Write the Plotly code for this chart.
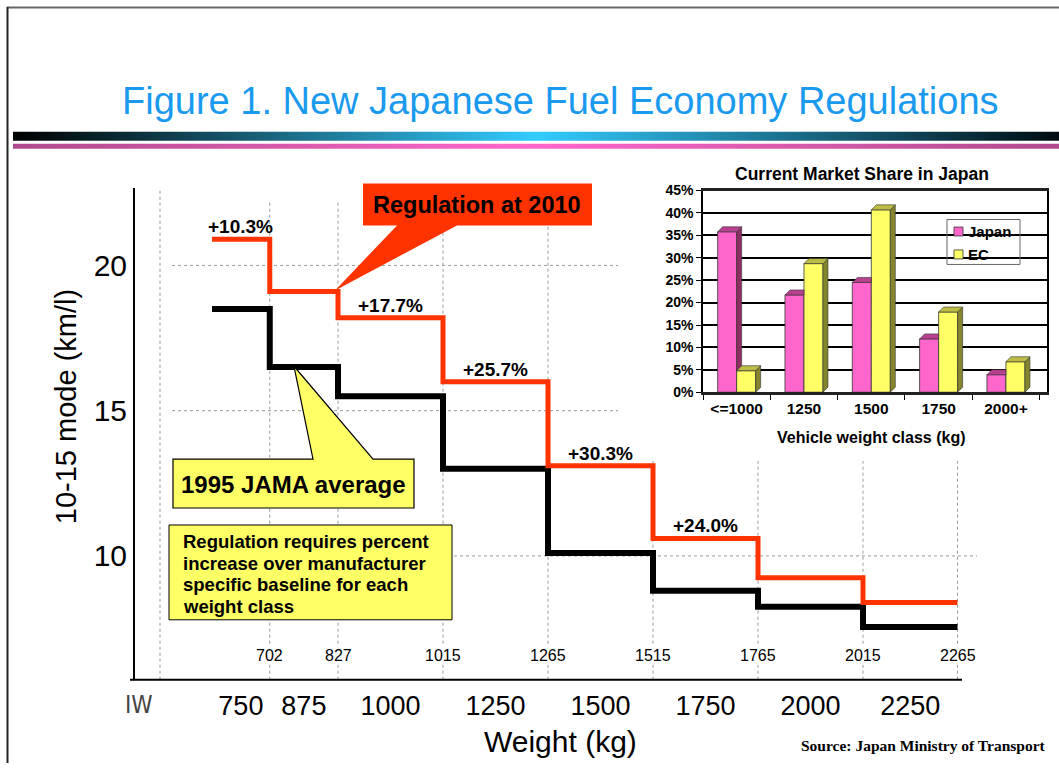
import plotly.graph_objects as go

W, H = 1059, 771

# ---------------- data ----------------
iw_labels = ["750", "875", "1000", "1250", "1500", "1750", "2000", "2250"]
boundary_labels = ["702", "827", "1015", "1265", "1515", "1765", "2015", "2265"]
# step positions on the (irregular) weight axis: start, then class boundaries
step_x = [-0.2, 0.35, 1, 2, 3, 4, 5, 6, 6.9]
jama_1995 = [18.5, 16.5, 15.5, 13.0, 10.1, 8.8, 8.25, 7.55]
reg_2010 = [20.9, 19.1, 18.2, 16.0, 13.1, 10.6, 9.25, 8.4]
increase_labels = ["+10.3%", "", "+17.7%", "+25.7%", "+30.3%", "+24.0%", "", ""]
y_ticks = [10, 15, 20]

share_classes = ["<=1000", "1250", "1500", "1750", "2000+"]
share_names = ["Japan", "EC"]
share_japan = [35.8, 21.7, 24.5, 11.9, 3.9]
share_ec = [4.8, 28.7, 40.7, 17.9, 6.8]
share_ticks = [0, 5, 10, 15, 20, 25, 30, 35, 40, 45]

note_lines = ["Regulation requires percent", "increase over manufacturer",
              "specific baseline for each", "weight class"]

FONT = "Liberation Sans"
NARROW = "Liberation Sans Narrow, DejaVu Sans Condensed, Liberation Sans"

# vertical compensation for the capture (observed: shown_y = OFF + SC * page_y)
OFF, SC = 7.1, 0.981


def TY(y):
    return (y - OFF) / SC


def PX(x):
    return x / W


def PY(y):
    return 1 - TY(y) / H


def P(x, y):
    return f"{PX(x):.5f},{PY(y):.5f}"


# main plot geometry (pixels as seen)
ML, MR, MT, MB = 135, 977, 187, 680
UNIT, ORIG = 105.0, 338.0
Y_PER, Y20 = 29.1, 265.0
x_range = [1 + (ML - ORIG) / UNIT, 1 + (MR - ORIG) / UNIT]
y_range = [20 - (MB - Y20) / Y_PER, 20 - (MT - Y20) / Y_PER]

# inset geometry
IL, IR, IT, IB = 703, 1047, 190, 392
ix_range = [-0.5, 4.61]
iy_range = [0, 45]
px_per_x = (IR - IL) / (ix_range[1] - ix_range[0])
px_per_y = (IB - IT) / (iy_range[1] - iy_range[0])
BW = 19 / px_per_x
DX = 5 / px_per_x
DY = 5 / px_per_y

fig = go.Figure()

# main step lines
fig.add_trace(go.Scatter(x=step_x, y=jama_1995 + [jama_1995[-1]], mode="lines",
                         line=dict(color="black", width=6, shape="hv"),
                         xaxis="x", yaxis="y", hoverinfo="skip", name="1995 JAMA average"))
fig.add_trace(go.Scatter(x=step_x, y=reg_2010 + [reg_2010[-1]], mode="lines",
                         line=dict(color="#FF3300", width=5, shape="hv"),
                         xaxis="x", yaxis="y", hoverinfo="skip", name="Regulation at 2010"))

# white mask behind the inset chart
fig.add_trace(go.Scatter(x=[0, 1, 1, 0, 0], y=[0, 0, 1, 1, 0], mode="lines", fill="toself",
                         fillcolor="white", line=dict(width=0, color="white"),
                         xaxis="x2", yaxis="y2", hoverinfo="skip"))

# inset bars (front faces)
cat_idx = list(range(len(share_classes)))
fig.add_trace(go.Bar(x=cat_idx, y=share_japan, width=BW, offset=-BW, name=share_names[0],
                     marker=dict(color="#FF66CC", line=dict(color="#333", width=0.8)),
                     xaxis="x3", yaxis="y3", hoverinfo="skip"))
fig.add_trace(go.Bar(x=cat_idx, y=share_ec, width=BW, offset=0, name=share_names[1],
                     marker=dict(color="#FFFF66", line=dict(color="#333", width=0.8)),
                     xaxis="x3", yaxis="y3", hoverinfo="skip"))

# decorative gradient rules under the title
fig.add_trace(go.Scatter(x=[13, 1059, 1059, 13, 13], y=[131, 131, 140, 140, 131], mode="lines",
                         fill="toself", line=dict(width=0),
                         fillgradient=dict(type="horizontal",
                                           colorscale=[[0, "#000000"], [0.5, "#33CCFF"], [1, "#000C12"]]),
                         xaxis="x4", yaxis="y4", hoverinfo="skip"))
fig.add_trace(go.Scatter(x=[13, 1059, 1059, 13, 13], y=[143, 143, 148, 148, 143], mode="lines",
                         fill="toself", line=dict(width=0),
                         fillgradient=dict(type="horizontal",
                                           colorscale=[[0, "#B04A8C"], [0.5, "#FF66CC"], [1, "#B04A8C"]]),
                         xaxis="x4", yaxis="y4", hoverinfo="skip"))

shapes = []
# slide frame
shapes.append(dict(type="line", xref="paper", yref="paper", x0=PX(7), x1=1, y0=PY(6.5), y1=PY(6.5),
                   line=dict(color="#666", width=2)))
shapes.append(dict(type="line", xref="paper", yref="paper", x0=PX(7.5), x1=PX(7.5), y0=PY(6), y1=0,
                   line=dict(color="#222", width=2)))
# main grid
gx0 = (172 - ML) / (MR - ML)
for v in y_ticks:
    shapes.append(dict(type="line", xref="x domain", yref="y", x0=gx0, x1=1, y0=v, y1=v,
                       line=dict(color="#999", width=1, dash="dot"), layer="below"))
gtop = (MB - 200) / (MB - MT)
for xv in step_x[1:]:
    shapes.append(dict(type="line", xref="x", yref="y domain", x0=xv, x1=xv, y0=0, y1=gtop,
                       line=dict(color="#999", width=1, dash="dot"), layer="below"))
shapes.append(dict(type="line", xref="x domain", yref="y domain", x0=(160 - ML) / (MR - ML),
                   x1=(160 - ML) / (MR - ML), y0=0, y1=1,
                   line=dict(color="#999", width=1, dash="dot"), layer="below"))
# bottom axis rule
shapes.append(dict(type="line", xref="paper", yref="paper", x0=PX(130), x1=PX(962), y0=PY(680), y1=PY(680),
                   line=dict(color="black", width=2)))

# callouts
red_path = ("M " + P(363, 183) + " L " + P(592, 183) + " L " + P(592, 225) + " L " + P(457, 225)
            + " L " + P(335, 290) + " L " + P(397, 225) + " L " + P(363, 225) + " Z")
shapes.append(dict(type="path", xref="paper", yref="paper", path=red_path, fillcolor="#FF3300",
                   line=dict(width=0), layer="above"))
yel_path = ("M " + P(173, 459) + " L " + P(313, 459) + " L " + P(294, 366) + " L " + P(373, 459)
            + " L " + P(414, 459) + " L " + P(414, 508) + " L " + P(173, 508) + " Z")
shapes.append(dict(type="path", xref="paper", yref="paper", path=yel_path, fillcolor="#FFFF66",
                   line=dict(color="black", width=1.2), layer="above"))
shapes.append(dict(type="rect", xref="paper", yref="paper", x0=PX(169), x1=PX(452), y0=PY(525), y1=PY(620),
                   fillcolor="#FFFF66", line=dict(color="black", width=1), layer="above"))


# inset 3D faces
def quad(pts):
    return "M " + " L ".join(f"{a:.4f},{b:.4f}" for a, b in pts) + " Z"


face_line = dict(color="#333", width=0.6)
for i in cat_idx:
    j, e = share_japan[i], share_ec[i]
    xl, xr_ = i - BW, i
    if j >= e:
        top = [(xl, j), (xl + DX, j + DY), (xr_ + DX, j + DY), (xr_, j)]
        side = [(xr_, max(e, 0)), (xr_, j), (xr_ + DX, j + DY), (xr_ + DX, max(e, DY))]
        shapes.append(dict(type="path", xref="x3", yref="y3", path=quad(side), fillcolor="#8E2E62",
                           line=face_line, layer="above"))
    else:
        top = [(xl, j), (xl + DX, j + DY), (xr_, j + DY), (xr_, j)]
    shapes.append(dict(type="path", xref="x3", yref="y3", path=quad(top), fillcolor="#B8408F",
                       line=face_line, layer="above"))
    xl, xr_ = i, i + BW
    top = [(xl, e), (xl + DX, e + DY), (xr_ + DX, e + DY), (xr_, e)]
    side = [(xr_, 0), (xr_, e), (xr_ + DX, e + DY), (xr_ + DX, DY)]
    shapes.append(dict(type="path", xref="x3", yref="y3", path=quad(side), fillcolor="#85852E",
                       line=face_line, layer="above"))
    shapes.append(dict(type="path", xref="x3", yref="y3", path=quad(top), fillcolor="#BDBD45",
                       line=face_line, layer="above"))

# inset legend
shapes.append(dict(type="rect", xref="paper", yref="paper", x0=PX(947), x1=PX(1020), y0=PY(219), y1=PY(264),
                   line=dict(color="#666", width=1), layer="above"))
leg_colors = ["#FF66CC", "#FFFF66"]
leg_y = [231, 254]
for c, ly in zip(leg_colors, leg_y):
    shapes.append(dict(type="rect", xref="paper", yref="paper", x0=PX(954), x1=PX(963), y0=PY(ly - 4.5),
                       y1=PY(ly + 4.5), fillcolor=c, line=dict(color="#333", width=0.8), layer="above"))

ann = []


def txt(x, y, s, size, color="black", bold=False, family=FONT, xanchor="center", yanchor="middle", **kw):
    d = dict(x=PX(x), y=PY(y), xref="paper", yref="paper", text=s, showarrow=False,
             xanchor=xanchor, yanchor=yanchor,
             font=dict(family=family, size=size, color=color, weight="bold" if bold else "normal"))
    d.update(kw)
    ann.append(d)


txt(560, 100, "Figure 1. New Japanese Fuel Economy Regulations", 38, color="#1A9AEF")
txt(66, 407, "10-15 mode (km/l)", 29, textangle=-90)
txt(560, 742, "Weight (kg)", 30)
txt(139, 705, "IW", 24, color="#444", family=NARROW)
txt(1048, 746, "Source: Japan Ministry of Transport", 15.5, bold=True, family="Liberation Serif", xanchor="right")
txt(477, 204, "Regulation at 2010", 23.5, bold=True)
txt(293, 484, "1995 JAMA average", 24, bold=True)
for k, line in enumerate(note_lines):
    txt(181, 542 + 21.5 * k, line, 18.5, bold=True, xanchor="left")
txt(862, 173, "Current Market Share in Japan", 17.5, bold=True)
txt(871, 437, "Vehicle weight class (kg)", 16, bold=True)
for name, ly in zip(share_names, leg_y):
    txt(966, ly, name, 15, bold=True, xanchor="left")

for xv, lab in zip(step_x[1:], boundary_labels):
    ann.append(dict(x=xv, y=PY(656), xref="x", yref="paper", text=lab, showarrow=False,
                    xanchor="center", yanchor="middle",
                    bgcolor="white", borderpad=0, font=dict(family=FONT, size=16, color="black")))
for i, lab in enumerate(increase_labels):
    if lab:
        ann.append(dict(x=(step_x[i] + step_x[i + 1]) / 2, y=reg_2010[i], xref="x", yref="y", text=lab,
                        showarrow=False, xanchor="center", yanchor="bottom",
                        font=dict(family=FONT, size=19, color="black", weight="bold")))

centers = [(step_x[i] + step_x[i + 1]) / 2 for i in range(len(iw_labels))]

fig.update_layout(
    width=W, height=H, margin=dict(l=0, r=0, t=0, b=0),
    paper_bgcolor="white", plot_bgcolor="rgba(0,0,0,0)",
    showlegend=False, barmode="overlay",
    font=dict(family=FONT, color="black"),
    xaxis=dict(domain=[PX(ML), PX(MR)], range=x_range, anchor="y", showgrid=False, zeroline=False,
               showline=False, tickmode="array", tickvals=centers, ticktext=iw_labels,
               tickfont=dict(size=27, color="black"), ticks="", ticklabelstandoff=7),
    yaxis=dict(domain=[PY(MB), PY(MT)], range=y_range, anchor="x", showgrid=False, zeroline=False,
               showline=True, linecolor="black", linewidth=2, tickmode="array", tickvals=y_ticks,
               tickfont=dict(size=30, color="black"), ticks=""),
    xaxis2=dict(domain=[PX(618), 1], range=[0, 1], anchor="y2", visible=False),
    yaxis2=dict(domain=[PY(461), PY(158)], range=[0, 1], anchor="x2", visible=False),
    xaxis3=dict(domain=[PX(IL), PX(IR)], range=ix_range, anchor="y3", showgrid=False, zeroline=False,
                showline=True, linecolor="#222", linewidth=2.5, mirror=True,
                tickmode="array", tickvals=cat_idx, ticktext=share_classes, ticks="",
                tickfont=dict(size=15.5, color="black", weight="bold"),
                minor=dict(tick0=0.5, dtick=1, ticks="outside", ticklen=5, tickcolor="black")),
    yaxis3=dict(domain=[PY(IB), PY(IT)], range=iy_range, anchor="x3", showgrid=True, gridcolor="black",
                gridwidth=1.5, zeroline=False, showline=True, linecolor="black", linewidth=1.5, mirror=True,
                tickmode="array", tickvals=share_ticks, ticktext=[f"{t}%" for t in share_ticks],
                ticks="outside", ticklen=5,
                tickcolor="black", tickfont=dict(size=14, color="black", weight="bold")),
    xaxis4=dict(domain=[0, 1], range=[0, W], anchor="y4", visible=False),
    yaxis4=dict(domain=[0, 1], range=[OFF + SC * H, OFF], anchor="x4", visible=False),
    shapes=shapes, annotations=ann,
)

fig.write_html(
    "out.html",
    config={"displayModeBar": False},
    post_script=("document.documentElement.style.margin='0px';document.body.style.margin='0px';"
                 "document.documentElement.style.overflow='hidden';document.body.style.overflow='hidden';"
                 "var d=document.getElementById('{plot_id}');d.style.position='fixed';"
                 "d.style.left='0px';d.style.top='0px';"),
)
